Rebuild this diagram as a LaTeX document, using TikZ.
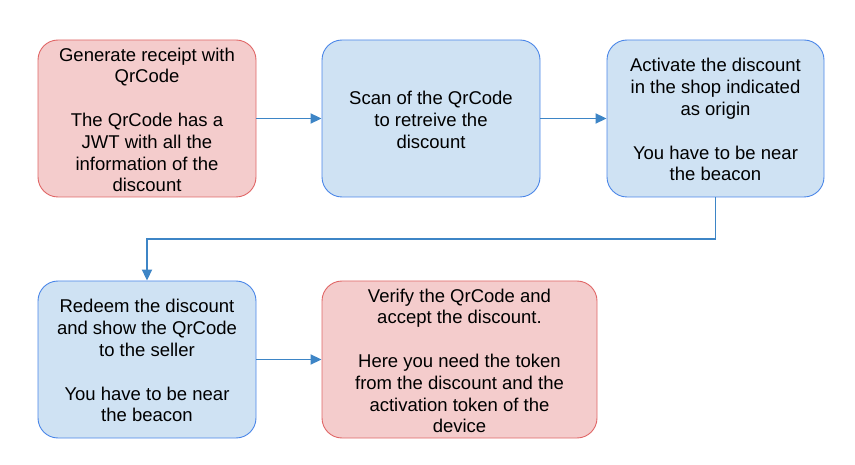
\documentclass[tikz,border=0pt]{standalone}
\usepackage{fontspec}
\setmainfont{Liberation Sans}
\usetikzlibrary{arrows.meta}
\definecolor{redfill}{HTML}{F4CCCC}
\definecolor{redline}{HTML}{E06666}
\definecolor{bluefill}{HTML}{CFE2F3}
\definecolor{blueline}{HTML}{4A86E8}
\definecolor{arrowblue}{HTML}{3D85C6}
\tikzset{
  boxbase/.style={rectangle, rounded corners=20pt, line width=0.9pt, align=center,
    minimum height=157pt, inner sep=0pt,
    font=\fontsize{18.5pt}{21.8pt}\selectfont},
  redbox/.style={boxbase, draw=redline, fill=redfill},
  bluebox/.style={boxbase, draw=blueline, fill=bluefill},
  conn/.style={draw=arrowblue, line width=1.9pt, -{Triangle[length=11pt,width=10pt]}}
}
\begin{document}
\begin{tikzpicture}[x=1pt,y=-1pt]
\useasboundingbox (0,0) rectangle (855,465);
\node[redbox, minimum width=218pt] (b1) at (147,118.5)
  {\rule{0pt}{16pt}Generate receipt with\\QrCode\\[21.8pt]The QrCode has a\\JWT with all the\\information of the\\discount};
\node[bluebox, minimum width=218pt] (b2) at (431,118.5)
  {\rule{0pt}{16pt}Scan of the QrCode\\to retreive the\\discount};
\node[bluebox, minimum width=217pt] (b3) at (715.5,118.5)
  {\rule{0pt}{16pt}Activate the discount\\in the shop indicated\\as origin\\[21.8pt]You have to be near\\the beacon};
\node[bluebox, minimum width=218pt] (b4) at (147,359.5)
  {\rule{0pt}{16pt}Redeem the discount\\and show the QrCode\\to the seller\\[21.8pt]You have to be near\\the beacon};
\node[redbox, minimum width=275pt] (b5) at (459.5,359.5)
  {\rule{0pt}{16pt}Verify the QrCode and\\accept the discount.\\[21.8pt]Here you need the token\\from the discount and the\\activation token of the\\device};
\coordinate (mid) at (0,239);
\draw[conn] (b1) -- (b2);
\draw[conn] (b2) -- (b3);
\draw[conn] (b3.south) -- (b3.south |- mid) -- (b4.north |- mid) -- (b4.north);
\draw[conn] (b4) -- (b5);
\end{tikzpicture}
\end{document}
